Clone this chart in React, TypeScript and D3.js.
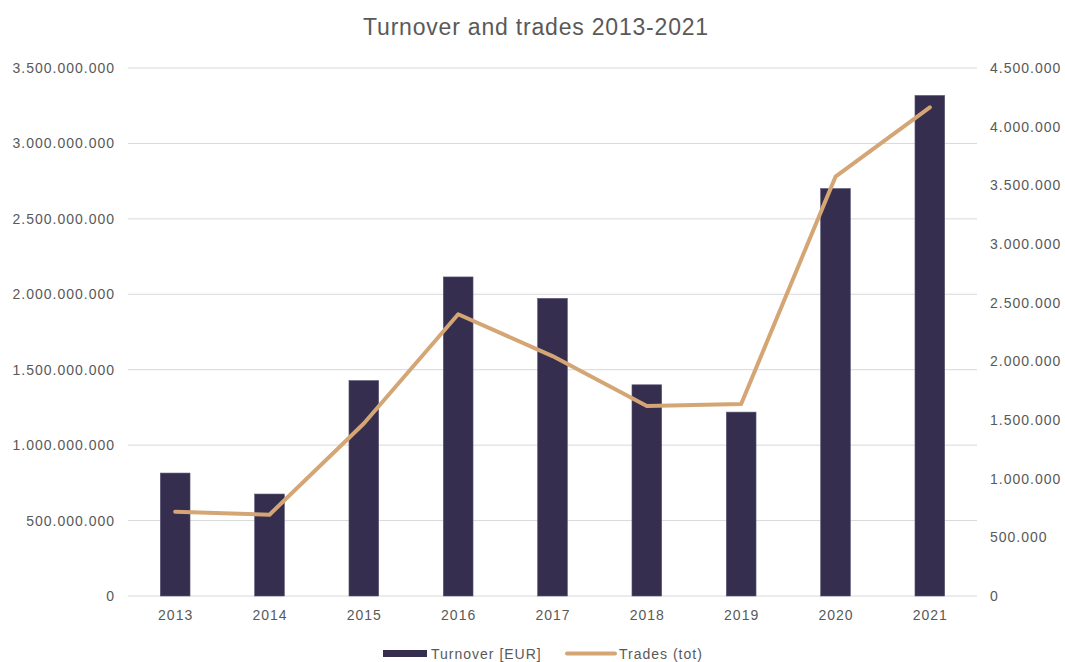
import React from "react";
import * as d3 from "d3";

const years = ["2013", "2014", "2015", "2016", "2017", "2018", "2019", "2020", "2021"];
const turnover = [815e6, 676e6, 1428e6, 2115e6, 1973e6, 1400e6, 1219e6, 2701e6, 3318e6];
const trades = [718e3, 693e3, 1470e3, 2401e3, 2045e3, 1619e3, 1636e3, 3574e3, 4165e3];
const leftTicks = [0, 500e6, 1000e6, 1500e6, 2000e6, 2500e6, 3000e6, 3500e6];
const rightTicks = [0, 500e3, 1000e3, 1500e3, 2000e3, 2500e3, 3000e3, 3500e3, 4000e3, 4500e3];

const W = 1065, H = 662;
const L = 128, R = 977, T = 68, B = 596;
const BAR = "#352e4e", LINE = "#d4a676", TXT = "#595959", GRID = "#d9d9d9";
const FONT = "'Liberation Sans', Arial, sans-serif";
const LS = 1.0;

const fmt = (v: number) => (v === 0 ? "0" : d3.format(",")(v).replace(/,/g, "."));

export default function App() {
  const x = d3.scaleBand<string>().domain(years).range([L, R]).paddingInner(0).paddingOuter(0);
  const yL = d3.scaleLinear().domain([0, 3500e6]).range([B, T]);
  const yR = d3.scaleLinear().domain([0, 4500e3]).range([B, T]);
  const bw = x.bandwidth() * 0.315;
  const line = d3.line<number>()
    .x((_, i) => (x(years[i]) as number) + x.bandwidth() / 2)
    .y((d) => yR(d));
  return (
    <svg width={W} height={H} style={{ position: "absolute", left: 0, top: 0, fontFamily: FONT }}>
      <rect x={0} y={0} width={W} height={H} fill="#fff" />
      <text x={536} y={35} textAnchor="middle" fontSize={23} letterSpacing={0.8} fill={TXT}>
        Turnover and trades 2013-2021
      </text>
      {leftTicks.map((t) => (
        <g key={"l" + t}>
          <line x1={L} x2={R} y1={yL(t)} y2={yL(t)} stroke={GRID} strokeWidth={1} />
          <text x={115} y={yL(t) + 5} textAnchor="end" fontSize={14} letterSpacing={LS} fill={TXT}>{fmt(t)}</text>
        </g>
      ))}
      {rightTicks.map((t) => (
        <text key={"r" + t} x={990} y={yR(t) + 5} textAnchor="start" fontSize={14} letterSpacing={LS} fill={TXT}>{fmt(t)}</text>
      ))}
      {years.map((yr, i) => (
        <rect key={yr} x={(x(yr) as number) + x.bandwidth() / 2 - bw / 2} y={yL(turnover[i])}
          width={bw} height={B - yL(turnover[i])} fill={BAR} stroke="#5c5675" strokeWidth={0.6} />
      ))}
      <path d={line(trades) || ""} fill="none" stroke={LINE} strokeWidth={4} strokeLinejoin="round" strokeLinecap="round" />
      {years.map((yr) => (
        <text key={"x" + yr} x={(x(yr) as number) + x.bandwidth() / 2 + LS / 2} y={620} textAnchor="middle" fontSize={14} letterSpacing={LS} fill={TXT}>{yr}</text>
      ))}
      <rect x={383} y={650} width={44} height={7} fill={BAR} />
      <text x={431} y={659} fontSize={14} letterSpacing={LS} fill={TXT}>Turnover [EUR]</text>
      <line x1={567} x2={615} y1={653.5} y2={653.5} stroke={LINE} strokeWidth={4} strokeLinecap="round" />
      <text x={619} y={659} fontSize={14} letterSpacing={LS} fill={TXT}>Trades (tot)</text>
    </svg>
  );
}
